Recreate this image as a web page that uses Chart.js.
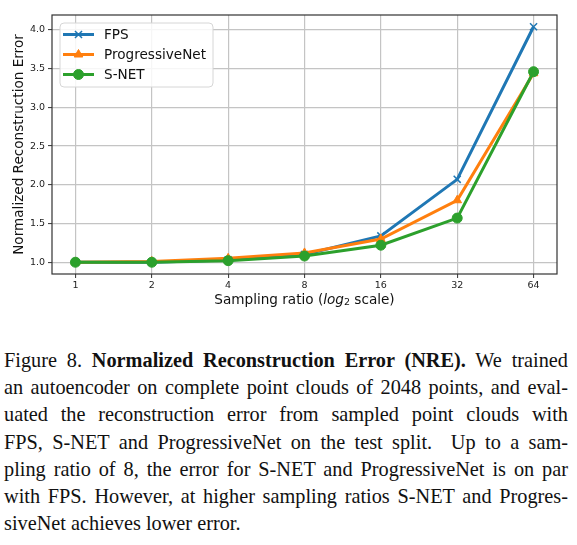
<!DOCTYPE html>
<html>
<head>
<meta charset="utf-8">
<script src="https://cdn.jsdelivr.net/npm/chart.js@4.4.0/dist/chart.umd.min.js"></script>
<style>
  html, body { margin: 0; padding: 0; background: #fff; }
  body { width: 577px; height: 545px; position: relative; overflow: hidden; }
  #wrap { position: absolute; left: 0; top: 0; width: 577px; height: 320px; }
  #caption {
    position: absolute; left: 4px; top: 347px; width: 564px;
    font-family: "Liberation Serif", "Times New Roman", serif;
    font-size: 20.3px; line-height: 27.2px; color: #111;
  }
  #caption .l { text-align: justify; text-align-last: justify; }
  #caption .last { text-align: left; text-align-last: left; }
</style>
</head>
<body>
<div id="wrap"><canvas id="nre"></canvas></div>
<div id="caption">
  <div class="l">Figure 8. <b>Normalized Reconstruction Error (NRE).</b> We trained</div>
  <div class="l">an autoencoder on complete point clouds of 2048 points, and eval-</div>
  <div class="l">uated the reconstruction error from sampled point clouds with</div>
  <div class="l">FPS, S-NET and ProgressiveNet on the test split.&nbsp; Up to a sam-</div>
  <div class="l">pling ratio of 8, the error for S-NET and ProgressiveNet is on par</div>
  <div class="l">with FPS. However, at higher sampling ratios S-NET and Progres-</div>
  <div class="l last">siveNet achieves lower error.</div>
</div>
<script>
// 資料
const ratios = [1, 2, 4, 8, 16, 32, 64];
const fpsErr = [1.00, 1.00, 1.03, 1.10, 1.34, 2.07, 4.04];
const progErr = [1.00, 1.01, 1.05, 1.12, 1.30, 1.80, 3.44];
const snetErr = [1.00, 1.00, 1.02, 1.08, 1.22, 1.57, 3.46];
const yTicks = [1.0, 1.5, 2.0, 2.5, 3.0, 3.5, 4.0];
const seriesNames = ['FPS', 'ProgressiveNet', 'S-NET'];
const seriesColors = ['#1f77b4', '#ff7f0e', '#2ca02c'];
const seriesMarkers = ['crossRot', 'triangle', 'circle'];
const yTitle = 'Normalized Reconstruction Error';

const FONT = '"DejaVu Sans", sans-serif';
const allErr = [fpsErr, progErr, snetErr];

const datasets = seriesNames.map((name, i) => ({
  label: name,
  data: allErr[i].map((v, j) => ({ x: ratios[j], y: v })),
  borderColor: seriesColors[i],
  backgroundColor: seriesColors[i],
  borderWidth: 3,
  pointStyle: seriesMarkers[i],
  pointRadius: 5,
  pointBorderWidth: i === 0 ? 1.5 : 1,
  order: 3 - i, // S-NET 畫在最上面
  clip: false,
}));

// 外框、軸標題、圖例
const figureExtras = {
  id: 'figureExtras',
  afterDatasetsDraw(chart) {
    const { ctx, chartArea: a } = chart;
    ctx.save();
    ctx.strokeStyle = '#333';
    ctx.lineWidth = 1.2;
    ctx.strokeRect(a.left, a.top, a.right - a.left, a.bottom - a.top);

    ctx.fillStyle = '#111';
    ctx.font = '13.6px ' + FONT;
    ctx.textBaseline = 'middle';

    // y title
    ctx.save();
    ctx.translate(19, (a.top + a.bottom) / 2);
    ctx.rotate(-Math.PI / 2);
    ctx.textAlign = 'center';
    ctx.fillText(yTitle, 0, 0);
    ctx.restore();

    // x title: Sampling ratio (log_2 scale)
    const parts = [
      { t: 'Sampling ratio (', f: '13.6px ' + FONT, dy: 0 },
      { t: 'log', f: 'italic 13.6px ' + FONT, dy: 0 },
      { t: '2', f: '9.5px ' + FONT, dy: 3 },
      { t: ' scale)', f: '13.6px ' + FONT, dy: 0 },
    ];
    let total = 0;
    parts.forEach(p => { ctx.font = p.f; p.w = ctx.measureText(p.t).width; total += p.w; });
    let x = (a.left + a.right) / 2 - total / 2;
    ctx.textAlign = 'left';
    parts.forEach(p => { ctx.font = p.f; ctx.fillText(p.t, x, 300 + p.dy); x += p.w; });
    ctx.restore();
  },
  afterDraw(chart) {
    const { ctx, chartArea: a } = chart;
    const bx = a.left + 8, by = a.top + 8, bw = 153, bh = 64;
    ctx.save();
    ctx.beginPath();
    ctx.roundRect(bx, by, bw, bh, 4);
    ctx.fillStyle = 'rgba(255,255,255,0.85)';
    ctx.fill();
    ctx.strokeStyle = '#d6d6d6';
    ctx.lineWidth = 1;
    ctx.stroke();

    seriesNames.forEach((name, i) => {
      const y = by + 11.5 + i * 20;
      ctx.strokeStyle = seriesColors[i];
      ctx.lineWidth = 3;
      ctx.beginPath();
      ctx.moveTo(bx + 3, y);
      ctx.lineTo(bx + 34, y);
      ctx.stroke();
      ctx.fillStyle = seriesColors[i];
      ctx.lineWidth = i === 0 ? 1.5 : 1;
      Chart.helpers.drawPoint(ctx, { pointStyle: seriesMarkers[i], radius: 5, borderWidth: ctx.lineWidth }, bx + 18.5, y);
      ctx.fillStyle = '#111';
      ctx.font = '13.6px ' + FONT;
      ctx.textAlign = 'left';
      ctx.textBaseline = 'middle';
      ctx.fillText(name, bx + 44, y + 0.5);
    });
    ctx.restore();
  },
};

const tickFont = { family: FONT, size: 9.5 };

new Chart(document.getElementById('nre'), {
  type: 'line',
  data: { datasets },
  options: {
    responsive: true,
    maintainAspectRatio: false,
    animation: false,
    layout: { padding: { top: 15, right: 20, left: 0, bottom: 0 } },
    plugins: {
      legend: { display: false },
      tooltip: { enabled: false },
    },
    scales: {
      x: {
        type: 'logarithmic',
        min: Math.pow(2, -0.307),
        max: 64 * Math.pow(2, 0.307),
        afterBuildTicks: s => { s.ticks = ratios.map(v => ({ value: v })); },
        afterFit: s => { s.height = 46; },
        ticks: {
          callback: v => String(v),
          autoSkip: false, maxRotation: 0, padding: 2,
          color: '#222', font: tickFont,
        },
        grid: { color: '#c4c4c4', lineWidth: 1.2, tickColor: '#333', tickLength: 4, tickWidth: 1 },
        border: { display: false },
      },
      y: {
        type: 'linear',
        min: 0.848,
        max: 4.192,
        afterBuildTicks: s => { s.ticks = yTicks.map(v => ({ value: v })); },
        afterFit: s => { s.width = 52; },
        ticks: {
          callback: v => v.toFixed(1),
          padding: 3,
          color: '#222', font: tickFont,
        },
        grid: { color: '#c4c4c4', lineWidth: 1.2, tickColor: '#333', tickLength: 4, tickWidth: 1 },
        border: { display: false },
      },
    },
  },
  plugins: [figureExtras],
});
</script>
</body>
</html>
